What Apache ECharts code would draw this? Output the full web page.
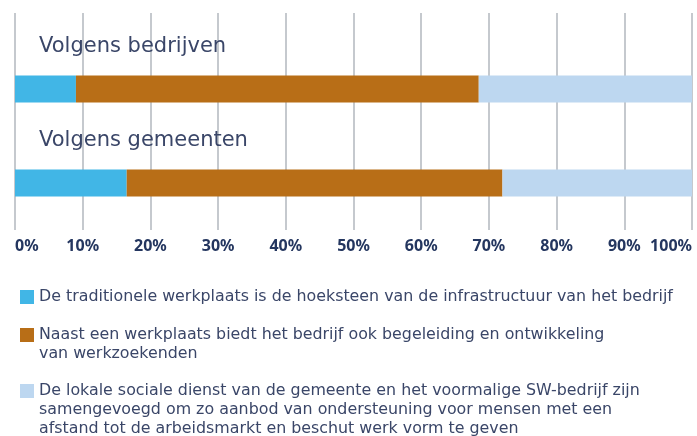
<!DOCTYPE html>
<html>
<head>
<meta charset="utf-8">
<script src="https://cdn.jsdelivr.net/npm/echarts@6/dist/echarts.min.js"></script>
<style>
  html, body { margin: 0; padding: 0; background: #fff; }
  #chart { width: 697px; height: 436px; }
</style>
</head>
<body>
<div id="chart"></div>
<script>
// data (percent of respondents)
const categories = ['Volgens bedrijven', 'Volgens gemeenten']
const traditioneel = [9, 16.5]
const begeleiding = [59.5, 55.5]
const samengevoegd = [31.5, 28]
const seriesNames = [
  'De traditionele werkplaats is de hoeksteen van de infrastructuur van het bedrijf',
  'Naast een werkplaats biedt het bedrijf ook begeleiding en ontwikkeling\nvan werkzoekenden',
  'De lokale sociale dienst van de gemeente en het voormalige SW-bedrijf zijn\nsamengevoegd om zo aanbod van ondersteuning voor mensen met een\nafstand tot de arbeidsmarkt en beschut werk vorm te geven'
]
const colors = ['#41b6e6', '#b86e17', '#bdd7f0']

const font = 'DejaVu Sans'
const textColor = '#3a4668'

// 每个图例单独放；前面补空行，让图标对齐第一行文字
const legendTops = [287.5, 306.5, 343.5]
const legends = seriesNames.map((name, i) => {
  const lines = name.split('\n').length
  return {
    orient: 'vertical',
    left: 20,
    top: legendTops[i],
    padding: 0,
    itemWidth: 14,
    itemHeight: 14,
    icon: 'rect',
    selectedMode: false,
    data: [name],
    formatter: n => '\n'.repeat(lines - 1) + n,
    textStyle: {
      fontFamily: font,
      fontSize: 15.85,
      color: textColor,
      lineHeight: 19
    }
  }
})

const chart = echarts.init(document.getElementById('chart'))
chart.setOption({
  animation: false,
  color: colors,
  legend: legends,
  grid: [
    // grid for the gridlines and tick labels
    { left: 15, right: 5, top: 13, bottom: 206 },
    // grid for the bars
    { left: 15, right: 5, top: 42, bottom: 206 }
  ],
  xAxis: [
    {
      gridIndex: 0,
      type: 'value',
      min: 0,
      max: 100,
      interval: 10,
      axisLine: { show: false },
      axisTick: { show: false },
      splitLine: { show: true, lineStyle: { color: '#b2b7be', width: 1.5 } },
      axisLabel: {
        formatter: '{value}%',
        margin: 8,
        fontFamily: 'Noto Sans',
        fontSize: 16,
        fontWeight: 'bold',
        color: '#24365f',
        alignMinLabel: 'left',
        alignMaxLabel: 'right'
      }
    },
    {
      gridIndex: 1,
      type: 'value',
      min: 0,
      max: 100,
      show: false,
      splitLine: { show: false }
    }
  ],
  yAxis: [
    { gridIndex: 0, type: 'category', data: categories, show: false },
    { gridIndex: 1, type: 'category', data: categories, inverse: true, show: false }
  ],
  series: [
    {
      name: seriesNames[0],
      type: 'bar',
      stack: 'totaal',
      xAxisIndex: 1,
      yAxisIndex: 1,
      barWidth: 27,
      data: traditioneel,
      label: {
        show: true,
        position: [24, -39],
        formatter: '{b}',
        fontFamily: font,
        fontSize: 21,
        color: textColor
      }
    },
    {
      name: seriesNames[1],
      type: 'bar',
      stack: 'totaal',
      xAxisIndex: 1,
      yAxisIndex: 1,
      barWidth: 27,
      data: begeleiding
    },
    {
      name: seriesNames[2],
      type: 'bar',
      stack: 'totaal',
      xAxisIndex: 1,
      yAxisIndex: 1,
      barWidth: 27,
      data: samengevoegd
    }
  ]
})
</script>
</body>
</html>
